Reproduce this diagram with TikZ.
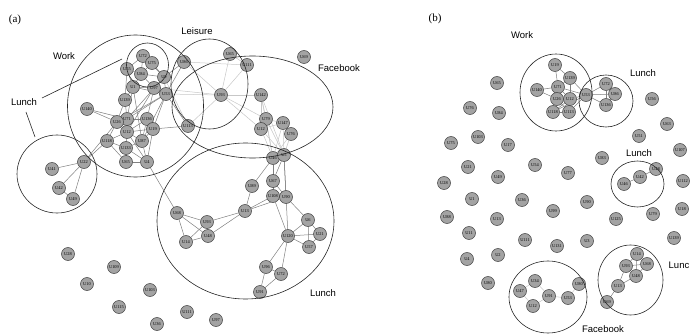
\documentclass[tikz,border=0pt]{standalone}
\usepackage{fontspec}
\setmainfont{Liberation Serif}
\newfontfamily\labfont{Liberation Sans}
\usetikzlibrary{backgrounds}
\begin{document}
\begin{tikzpicture}[x=1pt,y=-1pt,
  nd/.style={circle,draw=black!75,fill=gray!72,line width=0.5pt,minimum size=13pt,inner sep=0pt,font=\fontsize{4.4}{4.4}\selectfont},
  ed/.style={draw=black!50,line width=0.5pt},
  led/.style={draw=black!22,line width=0.5pt},
  ring/.style={draw=black!85,line width=0.6pt},
  lab/.style={font=\labfont\fontsize{9.5}{10}\selectfont,inner sep=0pt},
  tag/.style={font=\fontsize{11}{12}\selectfont,inner sep=0pt}]
\useasboundingbox (0,0) rectangle (691,334);
% ---------------- (a) ----------------
\node[tag] (ta) at (15,20) {(a)};
\node[lab] (tWork) at (64,56) {Work};
\node[lab] (tLeisure) at (197,31) {Leisure};
\node[lab] (tLunchA) at (24,102) {Lunch};
\node[lab] (tFb) at (339,68) {Facebook};
\node[lab] (tLunchB) at (323,293) {Lunch};
\coordinate (p1) at (42,98); \coordinate (p2) at (122,59);
\coordinate (p3) at (26,112); \coordinate (p4) at (35,137);
\draw[ring] (p1) -- (p2);
\draw[ring] (p3) -- (p4);
% nodes
\node[nd] (aU72) at (143,56) {U72};
\node[nd] (aU75) at (152,63) {U75};
\node[nd] (aU55) at (127,69) {U55};
\node[nd] (aU84) at (141,74) {U84};
\node[nd] (aU9) at (164,77) {U9};
\node[nd] (aU1) at (133,87) {U1};
\node[nd] (aU97) at (154,88) {U97};
\node[nd] (aU53) at (166,94) {U53};
\node[nd] (aU86) at (184,62) {U86};
\node[nd] (aU139) at (125,100) {U139};
\node[nd] (aU140) at (87,109) {U140};
\node[nd] (aU71) at (127,119) {U71};
\node[nd] (aU136) at (147,119) {U136};
\node[nd] (aU26) at (117,122) {U26};
\node[nd] (aU12) at (127,132) {U12};
\node[nd] (aU19) at (153,129) {U19};
\node[nd] (aU118) at (107,141) {U118};
\node[nd] (aU87) at (142,141) {U87};
\node[nd] (aU133) at (126,148) {U133};
\node[nd] (aU65) at (126,162) {U65};
\node[nd] (aU4) at (147,162) {U4};
\node[nd] (aU113) at (188,126) {U113};
\node[nd] (aU22) at (84,162) {U22};
\node[nd] (aU41) at (52,169) {U41};
\node[nd] (aU42) at (59,188) {U42};
\node[nd] (aU49) at (73,199) {U49};
\node[nd] (aU28) at (68,254) {U28};
\node[nd] (aU109) at (114,267) {U109};
\node[nd] (aU10) at (87,284) {U10};
\node[nd] (aU103) at (150,290) {U103};
\node[nd] (aU115) at (119,307) {U115};
\node[nd] (aU36) at (157,324) {U36};
\node[nd] (aU111) at (187,312) {U111};
\node[nd] (aU97b) at (216,320) {U97};
\node[nd] (aU68) at (177,213) {U68};
\node[nd] (aU93) at (207,222) {U93};
\node[nd] (aU48) at (208,236) {U48};
\node[nd] (aU14) at (186,242) {U14};
\node[nd] (aU13) at (245,211) {U13};
\node[nd] (aU89) at (252,186) {U89};
\node[nd] (aU67) at (273,181) {U67};
\node[nd] (aU108) at (273,196) {U108};
\node[nd] (aU90) at (286,197) {U90};
\node[nd] (aU46) at (273,158) {U46};
\node[nd] (aU5) at (284,155) {U5};
\node[nd] (aU6) at (308,220) {U6};
\node[nd] (aU21) at (320,234) {U21};
\node[nd] (aU57) at (309,247) {U57};
\node[nd] (aU120) at (288,236) {U120};
\node[nd] (aU96) at (266,267) {U96};
\node[nd] (aU72b) at (281,274) {U72};
\node[nd] (aU91) at (260,292) {U91};
\node[nd] (aU65b) at (230,54) {U65};
\node[nd] (aU111b) at (247,65) {U111};
\node[nd] (aU69) at (304,57) {U69};
\node[nd] (aU93b) at (221,95) {U93};
\node[nd] (aU142) at (261,95) {U142};
\node[nd] (aU79) at (266,119) {U79};
\node[nd] (aU147) at (283,123) {U147};
\node[nd] (aU12b) at (261,129) {U12};
\node[nd] (aU76) at (291,134) {U76};
\begin{scope}[on background layer]
% light (Facebook / Leisure) edges
\foreach \s/\t in {aU53/aU93b,aU93b/aU65b,aU93b/aU111b,aU65b/aU111b,aU93b/aU113,aU93b/aU142,aU93b/aU79,aU93b/aU12b,
  aU86/aU93b,aU97/aU93b,aU142/aU79,aU142/aU12b,aU79/aU147,aU79/aU12b,aU12b/aU147,aU147/aU76,aU79/aU46,aU79/aU5,
  aU12b/aU46,aU12b/aU5,aU147/aU46,aU147/aU5,aU76/aU5,aU76/aU46,aU142/aU5,aU142/aU46,aU111b/aU86,aU113/aU9}
  \draw[led] (\s) -- (\t);
% work cluster edges
\foreach \s/\t in {aU72/aU75,aU72/aU84,aU72/aU55,aU75/aU84,aU75/aU9,aU84/aU9,aU55/aU84,aU55/aU1,aU55/aU139,aU84/aU97,
  aU9/aU97,aU9/aU53,aU97/aU53,aU1/aU97,aU1/aU139,aU1/aU53,aU139/aU71,aU139/aU26,aU140/aU26,aU140/aU71,aU71/aU136,
  aU71/aU12,aU71/aU26,aU26/aU12,aU26/aU118,aU136/aU19,aU136/aU12,aU12/aU19,aU12/aU87,aU12/aU133,aU12/aU118,aU19/aU87,
  aU118/aU133,aU118/aU65,aU133/aU87,aU133/aU65,aU133/aU4,aU87/aU4,aU65/aU4,aU53/aU71,aU53/aU26,aU9/aU71,aU97/aU12,
  aU53/aU19,aU1/aU87,aU87/aU53,aU9/aU86,aU53/aU86,aU53/aU113,aU19/aU113,aU97/aU136,aU84/aU1,aU1/aU71,aU72/aU9,
  aU118/aU22,aU26/aU22,aU12/aU4,aU136/aU87,aU19/aU4,aU4/aU68}
  \draw[ed] (\s) -- (\t);
% lunch edges
\foreach \s/\t in {aU22/aU41,aU22/aU42,aU22/aU49,aU42/aU49,
  aU46/aU5,aU46/aU67,aU5/aU67,aU46/aU89,aU67/aU108,aU67/aU90,aU108/aU90,aU89/aU13,aU108/aU13,aU90/aU13,aU46/aU108,
  aU5/aU90,aU5/aU120,aU108/aU120,aU90/aU6,aU6/aU21,aU6/aU57,aU120/aU6,aU120/aU21,aU120/aU57,aU21/aU57,aU120/aU96,
  aU120/aU72b,aU96/aU72b,aU96/aU91,aU72b/aU91,aU13/aU93,aU13/aU48,aU68/aU93,aU68/aU14,aU68/aU48,aU93/aU14,aU93/aU48,aU14/aU48}
  \draw[ed] (\s) -- (\t);
\end{scope}
% groups
\draw[ring] (135.5,106) ellipse [x radius=68pt,y radius=71pt];
\draw[ring] (147.5,65) ellipse [x radius=21pt,y radius=22pt];
\draw[ring] (209.5,84) ellipse [x radius=38.5pt,y radius=45pt];
\draw[ring] (252.5,107) ellipse [x radius=80.5pt,y radius=51pt];
\draw[ring] (57,174) ellipse [x radius=40pt,y radius=39pt];
\draw[ring] (245.5,221) ellipse [x radius=88.5pt,y radius=78pt];
% ---------------- (b) ----------------
\node[tag] (tb) at (435,19) {(b)};
\node[lab] (tWorkB) at (522,35) {Work};
\node[lab] (tLunchC) at (643,73) {Lunch};
\node[lab] (tLunchD) at (639,153) {Lunch};
\node[lab,anchor=east] (tLunchE) at (689.5,265) {Lunc};
\node[lab] (tFbB) at (603,329) {Facebook};
% work
\node[nd] (bU19) at (555,65) {U19};
\node[nd] (bU139) at (570,78) {U139};
\node[nd] (bU140) at (537,90) {U140};
\node[nd] (bU71) at (558,87) {U71};
\node[nd] (bU26) at (557,99) {U26};
\node[nd] (bU12) at (570,99) {U12};
\node[nd] (bU53) at (586,95) {U53};
\node[nd] (bU118) at (553,112) {U118};
\node[nd] (bU113) at (569,112) {U113};
\node[nd] (bU72) at (606,84) {U72};
\node[nd] (bU86) at (615,94) {U86};
\node[nd] (bU136) at (606,105) {U136};
% scattered
\node[nd] (bU65) at (497,83) {U65};
\node[nd] (bU76) at (470,108) {U76};
\node[nd] (bU84) at (499,113) {U84};
\node[nd] (bU103) at (478,137) {U103};
\node[nd] (bU75) at (451,143) {U75};
\node[nd] (bU17) at (508,145) {U17};
\node[nd] (bU56) at (652,99) {U56};
\node[nd] (bU63) at (667,124) {U63};
\node[nd] (bU51) at (639,136) {U51};
\node[nd] (bU107) at (680,150) {U107};
\node[nd] (bU83) at (602,158) {U83};
\node[nd] (bU21) at (468,167) {U21};
\node[nd] (bU54) at (535,165) {U54};
\node[nd] (bU77) at (568,173) {U77};
\node[nd] (bU28) at (444,183) {U28};
\node[nd] (bU49) at (498,177) {U49};
\node[nd] (bU1) at (472,199) {U1};
\node[nd] (bU36) at (522,200) {U36};
\node[nd] (bU90) at (587,202) {U90};
\node[nd] (bU99) at (553,211) {U99};
\node[nd] (bU88) at (447,217) {U88};
\node[nd] (bU13) at (497,219) {U13};
\node[nd] (bU125) at (616,219) {U125};
\node[nd] (bU79) at (653,214) {U79};
\node[nd] (bU18) at (682,209) {U18};
\node[nd] (bU11) at (469,233) {U11};
\node[nd] (bU111) at (525,240) {U111};
\node[nd] (bU131) at (557,246) {U131};
\node[nd] (bU3) at (587,241) {U3};
\node[nd] (bU139b) at (674,238) {U139};
\node[nd] (bU4) at (467,259) {U4};
\node[nd] (bU2) at (498,255) {U2};
\node[nd] (bU80) at (488,283) {U80};
\node[nd] (bU112) at (683,181) {U112};
% lunch mid
\node[nd] (bU46) at (624,184) {U46};
\node[nd] (bU42) at (640,177) {U42};
\node[nd] (bU48) at (656,169) {U48};
% lunch bottom
\node[nd] (bU14) at (637,254) {U14};
\node[nd] (bU93) at (626,266) {U93};
\node[nd] (bU68) at (647,264) {U68};
\node[nd] (bU48b) at (636,276) {U48};
\node[nd] (bU13b) at (618,286) {U13};
\node[nd] (bU69) at (607,302) {U69};
% facebook
\node[nd] (bU34) at (535,281) {U34};
\node[nd] (bU47) at (520,291) {U47};
\node[nd] (bU91) at (549,296) {U91};
\node[nd] (bU53b) at (568,298) {U53};
\node[nd] (bU12b) at (533,306) {U12};
\node[nd] (bU80b) at (579,284) {U80};
\begin{scope}[on background layer]
\foreach \s/\t in {bU19/bU139,bU19/bU71,bU139/bU71,bU139/bU12,bU139/bU53,bU140/bU71,bU140/bU26,bU71/bU26,bU71/bU12,
  bU71/bU53,bU26/bU12,bU26/bU118,bU26/bU113,bU12/bU53,bU12/bU113,bU12/bU118,bU118/bU113,bU53/bU113,bU53/bU118,
  bU53/bU72,bU53/bU86,bU53/bU136,bU72/bU86,bU72/bU136,bU86/bU136,
  bU46/bU42,bU42/bU48,
  bU14/bU93,bU14/bU68,bU93/bU68,bU93/bU48b,bU68/bU48b,bU14/bU48b,bU93/bU13b,bU48b/bU13b,bU13b/bU69}
  \draw[ed] (\s) -- (\t);
\foreach \s/\t in {bU34/bU47,bU47/bU12b,bU12b/bU91,bU34/bU91,bU91/bU53b,bU53b/bU80b}
  \draw[led] (\s) -- (\t);
\end{scope}
\draw[ring] (556,92.5) ellipse [x radius=36pt,y radius=38.5pt];
\draw[ring] (606,101) ellipse [x radius=27pt,y radius=26pt];
\draw[ring] (637.5,184) ellipse [x radius=26.5pt,y radius=23pt];
\draw[ring] (630.5,280) ellipse [x radius=32.5pt,y radius=35pt];
\draw[ring] (548,297) ellipse [x radius=39pt,y radius=36pt];
\end{tikzpicture}
\end{document}
